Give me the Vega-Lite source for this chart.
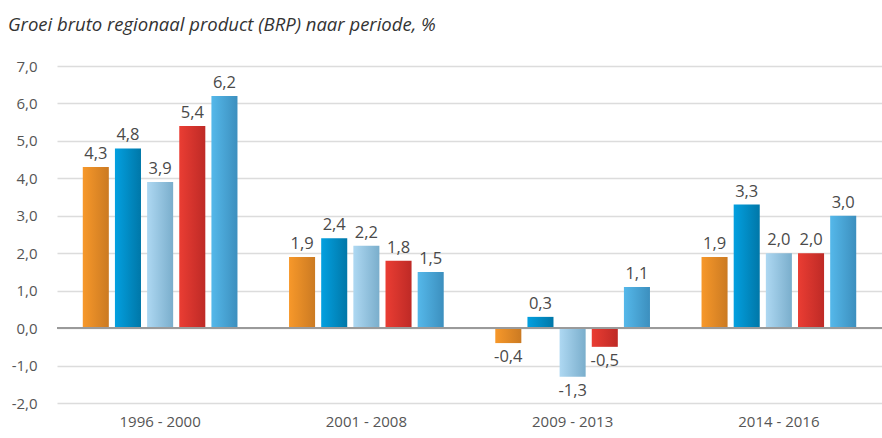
{
  "$schema": "https://vega.github.io/schema/vega-lite/v6.json",
  "width": 825,
  "height": 337,
  "autosize": {"type": "none"},
  "padding": {"left": 57, "top": 66, "right": 0, "bottom": 35},
  "background": "white",
  "title": {
    "text": "Groei bruto regionaal product (BRP) naar periode, %",
    "anchor": "start",
    "frame": "group",
    "font": "Open Sans",
    "fontStyle": "italic",
    "fontWeight": "normal",
    "fontSize": 18.5,
    "color": "#333333",
    "dx": -49,
    "offset": 25
  },
  "config": {
    "view": {"stroke": null},
    "locale": {
      "number": {"decimal": ",", "thousands": ".", "grouping": [3], "currency": ["€", ""], "minus": "-"}
    },
    "font": "Open Sans"
  },
  "data": {
    "values": [
      {"periode": "1996 - 2000", "reeks": "s1", "groei": 4.3},
      {"periode": "1996 - 2000", "reeks": "s2", "groei": 4.8},
      {"periode": "1996 - 2000", "reeks": "s3", "groei": 3.9},
      {"periode": "1996 - 2000", "reeks": "s4", "groei": 5.4},
      {"periode": "1996 - 2000", "reeks": "s5", "groei": 6.2},
      {"periode": "2001 - 2008", "reeks": "s1", "groei": 1.9},
      {"periode": "2001 - 2008", "reeks": "s2", "groei": 2.4},
      {"periode": "2001 - 2008", "reeks": "s3", "groei": 2.2},
      {"periode": "2001 - 2008", "reeks": "s4", "groei": 1.8},
      {"periode": "2001 - 2008", "reeks": "s5", "groei": 1.5},
      {"periode": "2009 - 2013", "reeks": "s1", "groei": -0.4},
      {"periode": "2009 - 2013", "reeks": "s2", "groei": 0.3},
      {"periode": "2009 - 2013", "reeks": "s3", "groei": -1.3},
      {"periode": "2009 - 2013", "reeks": "s4", "groei": -0.5},
      {"periode": "2009 - 2013", "reeks": "s5", "groei": 1.1},
      {"periode": "2014 - 2016", "reeks": "s1", "groei": 1.9},
      {"periode": "2014 - 2016", "reeks": "s2", "groei": 3.3},
      {"periode": "2014 - 2016", "reeks": "s3", "groei": 2.0},
      {"periode": "2014 - 2016", "reeks": "s4", "groei": 2.0},
      {"periode": "2014 - 2016", "reeks": "s5", "groei": 3.0}
    ]
  },
  "encoding": {
    "x": {
      "field": "periode",
      "type": "nominal",
      "sort": null,
      "scale": {"paddingInner": 0.25, "paddingOuter": 0.125},
      "axis": {
        "title": null,
        "labelAngle": 0,
        "domain": false,
        "ticks": false,
        "labelPadding": 11,
        "labelFontSize": 15,
        "labelColor": "#555555",
        "labelFont": "Open Sans"
      }
    },
    "xOffset": {
      "field": "reeks",
      "type": "nominal",
      "scale": {"domain": ["s1", "s2", "s3", "s4", "s5"], "paddingInner": 0.19, "paddingOuter": 0}
    },
    "y": {
      "field": "groei",
      "type": "quantitative",
      "scale": {"domain": [-2, 7], "nice": false, "zero": false},
      "axis": {
        "title": null,
        "values": [-2, -1, 0, 1, 2, 3, 4, 5, 6, 7],
        "format": ".1f",
        "domain": false,
        "ticks": false,
        "labelPadding": 20,
        "labelFontSize": 15,
        "labelColor": "#555555",
        "labelFont": "Open Sans",
        "gridColor": "#dcdcdc",
        "gridWidth": 1.5
      }
    }
  },
  "layer": [
    {
      "transform": [{"filter": "datum.reeks === 's1'"}],
      "mark": {"type": "bar", "fill": {"gradient": "linear", "x1": 0, "x2": 1, "y1": 0, "y2": 0, "stops": [{"offset": 0, "color": "#F7982A"}, {"offset": 1, "color": "#CB7A22"}]}}
    },
    {
      "transform": [{"filter": "datum.reeks === 's2'"}],
      "mark": {"type": "bar", "fill": {"gradient": "linear", "x1": 0, "x2": 1, "y1": 0, "y2": 0, "stops": [{"offset": 0, "color": "#03A0E0"}, {"offset": 1, "color": "#0077A8"}]}}
    },
    {
      "transform": [{"filter": "datum.reeks === 's3'"}],
      "mark": {"type": "bar", "fill": {"gradient": "linear", "x1": 0, "x2": 1, "y1": 0, "y2": 0, "stops": [{"offset": 0, "color": "#AED8F2"}, {"offset": 1, "color": "#7AAECC"}]}}
    },
    {
      "transform": [{"filter": "datum.reeks === 's4'"}],
      "mark": {"type": "bar", "fill": {"gradient": "linear", "x1": 0, "x2": 1, "y1": 0, "y2": 0, "stops": [{"offset": 0, "color": "#EA3D33"}, {"offset": 1, "color": "#BE2A26"}]}}
    },
    {
      "transform": [{"filter": "datum.reeks === 's5'"}],
      "mark": {"type": "bar", "fill": {"gradient": "linear", "x1": 0, "x2": 1, "y1": 0, "y2": 0, "stops": [{"offset": 0, "color": "#55B8EA"}, {"offset": 1, "color": "#3C8FBE"}]}}
    },
    {
      "transform": [{"filter": "datum.groei >= 0"}],
      "mark": {"type": "text", "baseline": "bottom", "dy": -5, "fontSize": 16.5, "color": "#4a4a4a", "font": "Open Sans"},
      "encoding": {"text": {"field": "groei", "type": "quantitative", "format": ".1f"}}
    },
    {
      "transform": [{"filter": "datum.groei < 0"}],
      "mark": {"type": "text", "baseline": "top", "dy": 6, "fontSize": 16.5, "color": "#4a4a4a", "font": "Open Sans"},
      "encoding": {"text": {"field": "groei", "type": "quantitative", "format": ".1f"}}
    },
    {
      "data": {"values": [{"nul": 0}]},
      "mark": {"type": "rule", "color": "#9a9a9a", "strokeWidth": 2},
      "encoding": {"y": {"field": "nul", "type": "quantitative"}, "x": {"value": 0}, "x2": {"value": 825}, "xOffset": null}
    }
  ]
}
